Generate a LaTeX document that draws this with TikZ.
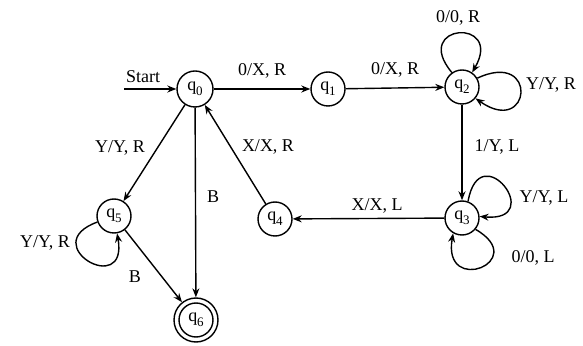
\documentclass[tikz,border=0pt]{standalone}
\usepackage{fontspec}
\setmainfont{Liberation Serif}
\usetikzlibrary{arrows.meta}
\newcommand\qlab[1]{q\kern-0.3pt\raisebox{-0.6ex}{\fontsize{13}{13}\selectfont #1}}
\begin{document}
\begin{tikzpicture}[x=1pt,y=1pt,
  state/.style={circle,draw,line width=1.4pt,minimum size=34pt,inner sep=0pt,font=\fontsize{18}{20}\selectfont},
  lbl/.style={inner sep=0pt,font=\fontsize{18}{20}\selectfont},
  tr/.style={line width=1.4pt,-{Stealth[length=9pt,width=7pt]}},
  ]
\useasboundingbox[fill=white] (0,0) rectangle (583,345);
% states
\node[state,minimum size=36pt] (q0) at (195,256) {\qlab0};
\node[state] (q1) at (328,256) {\qlab1};
\node[state] (q2) at (462,258) {\qlab2};
\node[state] (q3) at (462,127) {\qlab3};
\node[state] (q4) at (275,126) {\qlab4};
\node[state] (q5) at (114,129) {\qlab5};
\node[state,minimum size=44pt] (q6) at (196,25) {\qlab6};
\draw[line width=1.4pt] (q6.center) circle[radius=17pt];
% start
\coordinate (s) at (124,256);
\draw[tr] (s) -- (q0);
\node[lbl] (st) at (143,268) {Start};
% transitions
\draw[tr] (q0) -- (q1);
\draw[tr] (q1) -- (q2);
\draw[tr] (q2) -- (q3);
\draw[tr] (q3) -- (q4);
\draw[tr] (q4) -- (q0);
\draw[tr] (q0) -- (q5);
\draw[tr] (q0) -- (q6);
\draw[tr] (q5) -- (q6);
% loops
\draw[tr] (q2.125) .. controls +(130:64) and +(60:64) .. (q2.55);
\draw[tr] (q2.30) .. controls +(25:68) and +(-35:68) .. (q2.-40);
\draw[tr] (q3.70) .. controls +(80:68) and +(-5:68) .. (q3.5);
\draw[tr] (q3.-40) .. controls +(-30:64) and +(-100:64) .. (q3.-120);
\draw[tr] (q5.200) .. controls +(200:66) and +(-80:66) .. (q5.-80);
% labels
\node[lbl] (l01) at (262,274) {0/X, R};
\node[lbl] (l12) at (395,275) {0/X, R};
\node[lbl] (l22a) at (458,327) {0/0, R};
\node[lbl] (l22b) at (551,260) {Y/Y, R};
\node[lbl] (l23) at (497,198) {1/Y, L};
\node[lbl] (l33a) at (544,147) {Y/Y, L};
\node[lbl] (l33b) at (533,87) {0/0, L};
\node[lbl] (l34) at (377,139) {X/X, L};
\node[lbl] (l40) at (268,198) {X/X, R};
\node[lbl] (l05) at (120,197) {Y/Y, R};
\node[lbl] (l06) at (213,148) {B};
\node[lbl] (l56) at (135,68) {B};
\node[lbl,anchor=east] (l55) at (70,102) {Y/Y, R};
\end{tikzpicture}
\end{document}
